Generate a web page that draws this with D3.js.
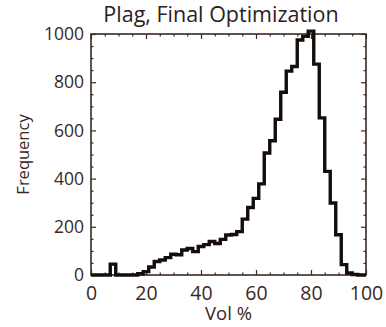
<!DOCTYPE html>
<html>
<head>
<meta charset="utf-8">
<script src="https://cdn.jsdelivr.net/npm/d3@7"></script>
<style>
  html, body { margin: 0; padding: 0; background: #ffffff; }
  svg { display: block; }
  text { font-family: "Open Sans", "Noto Sans", sans-serif; }
</style>
</head>
<body>
<svg id="chart" width="386" height="327"></svg>
<script>
// ---- data ----
const binCenters = [0, 2, 4, 6, 8, 10, 12, 14, 16, 18, 20, 22, 24, 26, 28, 30, 32, 34, 36, 38,
  40, 42, 44, 46, 48, 50, 52, 54, 56, 58, 60, 62, 64, 66, 68, 70, 72, 74, 76, 78,
  80, 82, 84, 86, 88, 90, 92, 94, 96, 98, 100];
const counts = [0, 0, 0, 0, 45, 0, 0, 0, 0, 5, 14, 33, 56, 62, 72, 86, 84, 104, 110, 97,
  118, 126, 139, 131, 148, 166, 168, 180, 232, 280, 318, 378, 506, 557, 646, 758, 846, 865, 975, 990,
  1012, 875, 652, 430, 299, 167, 43, 8, 2, 0, 0];
const binWidth = 2;
const xMajorTicks = [0, 20, 40, 60, 80, 100];
const xMinorTicks = [5, 10, 15, 25, 30, 35, 45, 50, 55, 65, 70, 75, 85, 90, 95];
const yMajorTicks = [0, 200, 400, 600, 800, 1000];
const yMinorTicks = [50, 100, 150, 250, 300, 350, 450, 500, 550, 650, 700, 750, 850, 900, 950];
const titleText = "Plag, Final Optimization";
const xTitle = "Vol %";
const yTitle = "Frequency";

// ---- layout ----
const svg = d3.select("#chart");
const pLeft = 91, pRight = 366, pTop = 34, pBottom = 275;
const x = d3.scaleLinear().domain([0, 100]).range([pLeft, pRight]).clamp(true);
const y = d3.scaleLinear().domain([0, 1000]).range([pBottom, pTop]);

const textColor = "#3b281d";
const frameColor = "#3a2a20";

// frame
svg.append("rect")
  .attr("x", pLeft).attr("y", pTop)
  .attr("width", pRight - pLeft).attr("height", pBottom - pTop)
  .attr("fill", "none").attr("stroke", frameColor).attr("stroke-width", 1.6);

function styleAxis(g) {
  g.select(".domain").remove();
  g.selectAll(".tick line").attr("stroke", frameColor).attr("stroke-width", 1.2);
  g.selectAll(".tick text").attr("fill", textColor).attr("font-family", "Open Sans, sans-serif");
}

// bottom axis (labels)
svg.append("g").attr("transform", `translate(0,${pBottom})`)
  .call(d3.axisBottom(x).tickValues(xMajorTicks).tickSize(-5).tickPadding(11).tickFormat(d3.format("d")))
  .call(styleAxis)
  .call(g => g.selectAll(".tick text").attr("font-size", 19.5));
svg.append("g").attr("transform", `translate(0,${pBottom})`)
  .call(d3.axisBottom(x).tickValues(xMinorTicks).tickSize(-2.5).tickFormat(""))
  .call(styleAxis);
// top axis (ticks only)
svg.append("g").attr("transform", `translate(0,${pTop})`)
  .call(d3.axisTop(x).tickValues(xMajorTicks).tickSize(-5).tickFormat(""))
  .call(styleAxis);
svg.append("g").attr("transform", `translate(0,${pTop})`)
  .call(d3.axisTop(x).tickValues(xMinorTicks).tickSize(-2.5).tickFormat(""))
  .call(styleAxis);
// left axis (labels)
svg.append("g").attr("transform", `translate(${pLeft},0)`)
  .call(d3.axisLeft(y).tickValues(yMajorTicks).tickSize(-5).tickPadding(7).tickFormat(d3.format("d")))
  .call(styleAxis)
  .call(g => g.selectAll(".tick text").attr("font-size", 17.5));
svg.append("g").attr("transform", `translate(${pLeft},0)`)
  .call(d3.axisLeft(y).tickValues(yMinorTicks).tickSize(-2.5).tickFormat(""))
  .call(styleAxis);
// right axis (ticks only)
svg.append("g").attr("transform", `translate(${pRight},0)`)
  .call(d3.axisRight(y).tickValues(yMajorTicks).tickSize(-5).tickFormat(""))
  .call(styleAxis);
svg.append("g").attr("transform", `translate(${pRight},0)`)
  .call(d3.axisRight(y).tickValues(yMinorTicks).tickSize(-2.5).tickFormat(""))
  .call(styleAxis);

// histogram outline (step)
const pts = [];
binCenters.forEach((c, i) => {
  pts.push([c - binWidth / 2, counts[i]]);
  pts.push([c + binWidth / 2, counts[i]]);
});
const line = d3.line().x(d => x(d[0])).y(d => y(d[1]));
svg.append("path")
  .datum(pts)
  .attr("d", line)
  .attr("fill", "none")
  .attr("stroke", "#140d0a")
  .attr("stroke-width", 3.4)
  .attr("stroke-linejoin", "miter")
  .attr("stroke-linecap", "butt");

// titles
svg.append("text")
  .attr("x", 221).attr("y", 22)
  .attr("text-anchor", "middle")
  .attr("font-size", 21.5)
  .attr("fill", "#2a2220")
  .text(titleText);

svg.append("text")
  .attr("x", (pLeft + pRight) / 2).attr("y", 320)
  .attr("text-anchor", "middle")
  .attr("font-size", 18.5)
  .attr("fill", textColor)
  .text(xTitle);

svg.append("text")
  .attr("transform", `translate(29,${(pTop + pBottom) / 2}) rotate(-90)`)
  .attr("text-anchor", "middle")
  .attr("font-size", 16.5)
  .attr("fill", textColor)
  .text(yTitle);
</script>
</body>
</html>
